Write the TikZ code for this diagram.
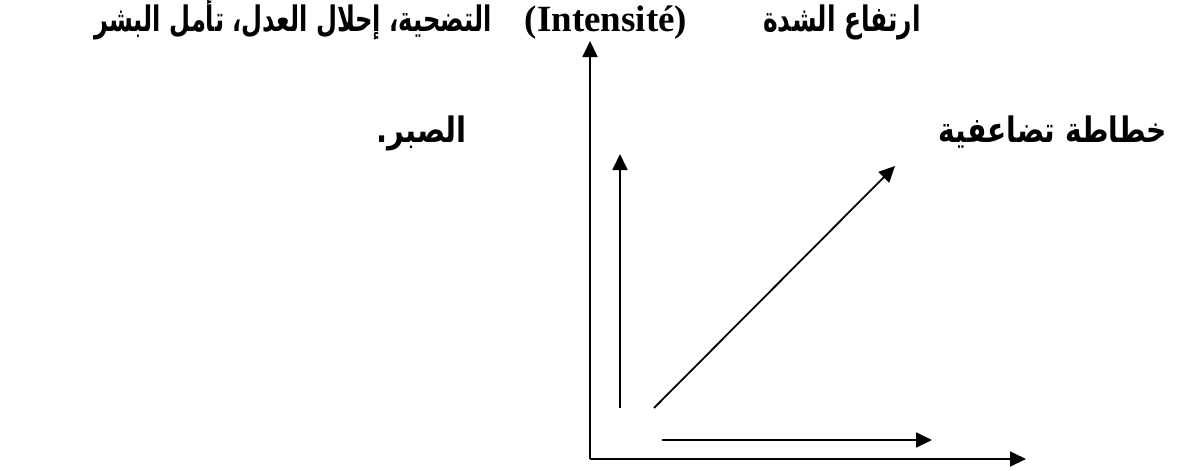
\documentclass[tikz,border=0pt]{standalone}
\usepackage{fontspec}
\setmainfont{Liberation Serif}
\newfontfamily\arabicfont[Script=Arabic]{DejaVu Sans}
\TeXXeTstate=1
\usetikzlibrary{arrows.meta}
\begin{document}
\begin{tikzpicture}[x=1pt,y=-1pt,
  axis/.style={line width=1.8pt,-{Triangle[length=16pt,width=15pt]}},
  latin/.style={inner sep=0pt,font=\fontsize{37}{42}\selectfont\bfseries},
  arab/.style={inner sep=0pt,font=\fontsize{26}{32}\selectfont\arabicfont\bfseries}]
\useasboundingbox (0,0) rectangle (1179,471);
\fill[white] (0,0) rectangle (1179,471);
% coordinates
\coordinate (O) at (590,459);
\coordinate (Ytop) at (590,41);
\coordinate (Xend) at (1026,459);
\coordinate (v1) at (620,408);
\coordinate (v1t) at (620,154);
\coordinate (d1) at (654,408);
\coordinate (d1t) at (895,166);
\coordinate (h1) at (662,440);
\coordinate (h1t) at (932,440);
% axes
\draw[axis] (O) -- (Ytop);
\draw[axis] (O) -- (Xend);
\draw[axis] (v1) -- (v1t);
\draw[axis] (d1) -- (d1t);
\draw[axis] (h1) -- (h1t);
% texts
\node[latin,anchor=base] (intens) at (606,31) {(Intensité)};
\node[arab,anchor=base] (shidda) at (842,31) {\scalebox{0.96}[1.35]{\beginR ارتفاع الشدة\endR}};
\node[arab,anchor=base east] (left1) at (492,31) {\scalebox{0.93}[1.35]{\beginR التضحية، إحلال العدل، تأمل البشر\endR}};
\node[arab,anchor=base east] (left2) at (467,142) {\scalebox{1.12}[1.35]{\beginR الصبر.\endR}};
\node[arab,anchor=base east] (khat) at (1167,142) {\scalebox{1.08}[1.35]{\beginR خطاطة تضاعفية\endR}};
\end{tikzpicture}
\end{document}
